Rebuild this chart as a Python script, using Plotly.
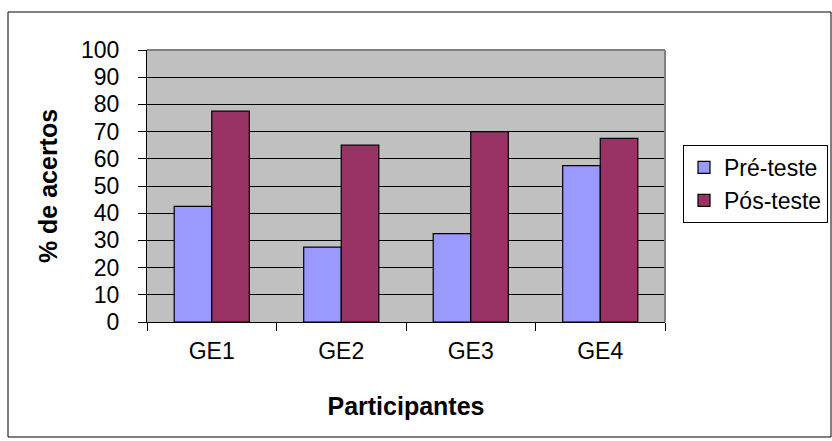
import plotly.graph_objects as go

groups = ["GE1", "GE2", "GE3", "GE4"]
pre_teste = [42.5, 27.5, 32.5, 57.5]
pos_teste = [77.5, 65, 70, 67.5]
y_ticks = list(range(0, 101, 10))

W, H = 832, 441
# plot area in pixels
PL, PR, PT, PB = 147, 665, 50, 322


def px(x):
    return (x - PL) / (PR - PL)


def py(y):
    return (PB - y) / (PB - PT)


font = "Liberation Sans, Arial, sans-serif"

fig = go.Figure()
fig.add_trace(go.Bar(x=groups, y=pre_teste, name="Pré-teste",
                     marker=dict(color="#9999FF", line=dict(color="black", width=1.2))))
fig.add_trace(go.Bar(x=groups, y=pos_teste, name="Pós-teste",
                     marker=dict(color="#993366", line=dict(color="black", width=1.2))))

fig.update_layout(
    width=W, height=H,
    margin=dict(l=PL, r=W - PR, t=PT, b=H - PB, autoexpand=False),
    paper_bgcolor="white",
    plot_bgcolor="#C0C0C0",
    barmode="group", bargap=0.42, bargroupgap=0,
    font=dict(family=font, size=23, color="black"),
    showlegend=True,
    legend=dict(x=px(683), y=py(145), xanchor="left", yanchor="top",
                bordercolor="black", borderwidth=1, bgcolor="white",
                font=dict(size=23), itemwidth=30, tracegroupgap=0),
    shapes=[
        # outer chart frame
        dict(type="rect", xref="paper", yref="paper",
             x0=px(8), x1=px(831), y0=py(437), y1=py(12),
             line=dict(color="black", width=1)),
        # grey plot border top / right
        dict(type="line", xref="paper", yref="paper", x0=0, x1=1, y0=1, y1=1,
             line=dict(color="#808080", width=2)),
        dict(type="line", xref="paper", yref="paper", x0=1, x1=1, y0=0, y1=1,
             line=dict(color="#808080", width=2)),
    ],
)

fig.update_xaxes(
    type="category", tickson="boundaries", ticks="outside", ticklen=8,
    tickcolor="black", showline=True, linecolor="black", linewidth=1,
    showgrid=False, tickfont=dict(size=23), ticklabelstandoff=8,
    title=dict(text="<b>Participantes</b>", font=dict(size=25), standoff=34),
)
fig.update_yaxes(
    range=[0, 100], tickvals=y_ticks, ticks="outside", ticklen=8,
    tickcolor="black", showline=True, linecolor="black", linewidth=1,
    showgrid=True, gridcolor="black", gridwidth=1, zeroline=False,
    tickfont=dict(size=23), ticklabelstandoff=14,
    title=dict(text="<b>% de acertos</b>", font=dict(size=25), standoff=16),
)

fig.write_html("out.html", config={"displayModeBar": False},
               post_script="document.body.style.margin='0';")
